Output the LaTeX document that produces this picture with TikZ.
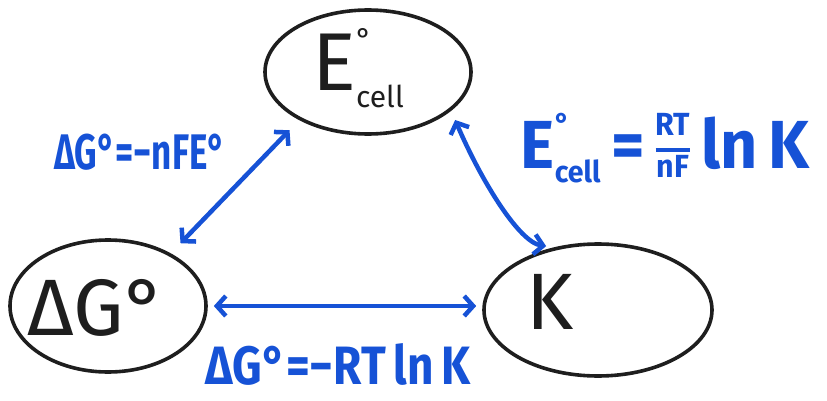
\documentclass[tikz,border=0pt]{standalone}
\usepackage{fontspec}
\usepackage{graphicx}
\setmainfont{Fira Sans}
\usetikzlibrary{shapes.geometric,arrows.meta}
\definecolor{ink}{RGB}{30,30,30}
\definecolor{pen}{RGB}{22,82,214}
% horizontally condensed text, like quick handwriting
\newcommand{\narrowtxt}[2][0.8]{\scalebox{#1}[1]{#2}}
% E with a degree sign above a small "cell" subscript
\newcommand{\ecell}[1]{E\rlap{\raisebox{0.5em}{\fontsize{#1}{#1}\selectfont °}}\raisebox{-0.2em}{\fontsize{#1}{#1}\selectfont cell}}
% hand-style fraction RT over nF with a thick bar
\newcommand{\rtnf}{\raisebox{0.18em}{\fontsize{32}{32}\selectfont\setlength{\arrayrulewidth}{4pt}\renewcommand{\arraystretch}{1.0}\begin{tabular}{@{}c@{}}RT\\[3pt]\hline\rule{0pt}{0.8em}nF\end{tabular}}}
\begin{document}
\begin{tikzpicture}[x=1pt,y=-1pt,
  bubble/.style={ellipse, draw=ink, line width=3.6pt, inner sep=0pt},
  big/.style={text=ink, inner sep=0pt, font=\fontsize{80}{82}\selectfont},
  barb/.tip={Straight Barb[length=9pt,width=20pt]},
  link/.style={draw=pen, line width=4.5pt, line cap=round, line join=round, barb-barb},
  rel/.style={text=pen, inner sep=0pt, font=\bfseries\fontsize{50}{54}\selectfont}]
\useasboundingbox (0,0) rectangle (827,401);

% the three quantities
\node[bubble, minimum width=206pt, minimum height=124pt] (top) at (368,72) {};
\node[bubble, minimum width=196pt, minimum height=132pt] (dg) at (108,306) {};
\node[bubble, minimum width=228pt, minimum height=132pt] (k) at (598,310) {};

\node[big, font=\fontsize{82}{84}\selectfont] (topTxt) at (358,68) {\ecell{30}};
\node[big] (dgTxt) at (97,308) {ΔG°};
\node[big] (kTxt) at (550,302) {K};

% relations between them
\draw[link, shorten <=14pt, shorten >=14pt] (dg.40) -- (top.215);
\draw[link, shorten <=6pt, shorten >=6pt] (dg.east) -- (dg.east -| k.west);
\draw[link, shorten <=10pt, shorten >=8pt] (top.-25) .. controls +(30,70) and +(-35,-5) .. (k.125);

\node[rel] (eqA) at (140,152) {\narrowtxt[0.7]{ΔG°=−nFE°}};
\node[rel, font=\bfseries\fontsize{54}{58}\selectfont] (eqB) at (338,364) {\narrowtxt[0.85]{ΔG°=−RT\,ln\,K}};
\node[rel, font=\bfseries\fontsize{68}{72}\selectfont] (eqC) at (665,150) {\narrowtxt[0.95]{\ecell{30}\,=\,\rtnf\,ln\,K}};
\end{tikzpicture}
\end{document}
